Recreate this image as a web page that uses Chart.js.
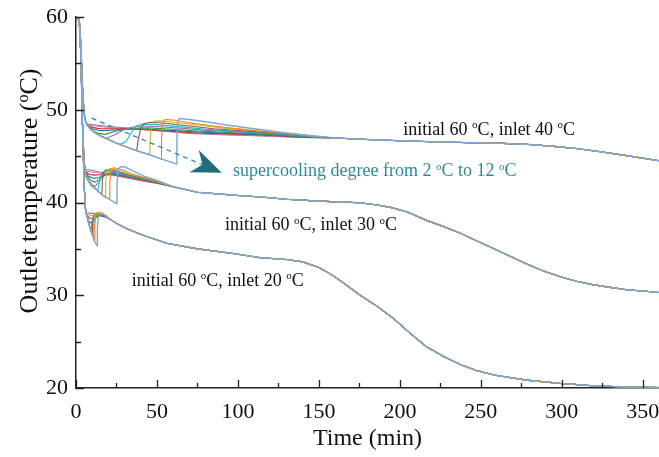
<!DOCTYPE html>
<html lang="en">
<head>
<meta charset="UTF-8">
<title>Outlet temperature vs time</title>
<script src="https://cdn.jsdelivr.net/npm/chart.js"></script>
<style>
  html, body { margin: 0; padding: 0; background: #fff; }
  #wrap { width: 659px; height: 457px; }
</style>
</head>
<body>
<div id="wrap"><canvas id="chart"></canvas></div>
<script>
// supercooling degree (°C) of each curve, and its colour
const degrees = [2, 3, 4, 5, 6, 7, 8, 9, 10, 11, 12];
const colors = ['#7f7f7f', '#e377c2', '#d62728', '#1f77b4', '#2ca02c', '#9467bd',
                '#17becf', '#8c564b', '#bcbd22', '#ff7f0e', '#7aaadc'];

const xTicks = [0, 50, 100, 150, 200, 250, 300, 350];
const yTicks = [20, 30, 40, 50, 60];

// ---- initial 60 °C, inlet 40 °C : [time (min), temperature (°C)]
const head40 = [[0, 60], [2, 59.8], [3, 57], [4, 52.5], [5, 49.6], [6, 48.7]];
const tail40 = [[160, 46.95], [180, 46.8], [200, 46.65], [230, 46.5], [260, 46.4], [280, 46.25],
                [295, 46.05], [310, 45.8], [325, 45.45], [340, 45.05], [360, 44.5]];
const in40 = [
  [[7, 48.45], [12, 48.35], [20, 48.2], [30, 48.05], [40, 47.9], [55, 47.7], [70, 47.45], [90, 47.3], [110, 47.2], [140, 47.0]],
  [[7, 48.4], [12, 48.25], [20, 48.1], [30, 48.0], [40, 47.88], [55, 47.7], [70, 47.5], [90, 47.35], [110, 47.25], [140, 47.02]],
  [[7, 48.35], [10, 48.1], [15, 47.95], [22, 47.95], [32, 47.95], [45, 47.85], [60, 47.65], [75, 47.5], [95, 47.4], [115, 47.28], [140, 47.05]],
  [[7, 48.3], [10, 47.95], [15, 47.75], [22, 47.8], [32, 47.9], [45, 47.9], [60, 47.75], [75, 47.6], [95, 47.45], [115, 47.32], [140, 47.08]],
  [[7, 48.3], [10, 47.8], [14, 47.45], [18, 47.35], [25, 47.7], [33, 48.0], [45, 48.05], [60, 47.9], [75, 47.7], [95, 47.55], [115, 47.38], [140, 47.1]],
  [[7, 48.3], [9, 47.9], [12, 47.5], [16, 47.1], [19, 46.95], [24, 47.3], [30, 47.9], [38, 48.25], [50, 48.2], [65, 48.0], [80, 47.8], [100, 47.6], [120, 47.42], [140, 47.15]],
  [[7, 48.3], [9, 47.9], [12, 47.5], [16, 47.1], [20, 46.8], [25, 46.4], [28, 46.3], [31, 46.6], [34, 47.5], [37, 48.2], [41, 48.45], [50, 48.4], [65, 48.15], [80, 47.9], [100, 47.65], [120, 47.45], [140, 47.18]],
  [[7, 48.3], [9, 47.9], [12, 47.5], [16, 47.1], [20, 46.8], [25, 46.4], [31, 46.0], [35, 45.75], [37.5, 45.65], [38.5, 46.8], [40, 48.0], [42, 48.5], [46, 48.65], [55, 48.55], [70, 48.25], [85, 47.95], [105, 47.7], [125, 47.45], [140, 47.22]],
  [[7, 48.3], [9, 47.9], [12, 47.5], [16, 47.1], [20, 46.8], [25, 46.4], [31, 46.0], [38, 45.55], [45.5, 45.15], [45.8, 46.6], [46.5, 48.3], [48, 48.75], [52, 48.8], [60, 48.65], [75, 48.35], [90, 48.05], [110, 47.75], [130, 47.45], [140, 47.25]],
  [[7, 48.3], [9, 47.9], [12, 47.5], [16, 47.1], [20, 46.8], [25, 46.4], [31, 46.0], [38, 45.55], [45.5, 45.15], [52.5, 44.7], [52.8, 46.6], [53.3, 48.6], [55, 48.95], [60, 48.9], [70, 48.6], [85, 48.25], [100, 47.95], [120, 47.6], [140, 47.28]],
  [[7, 48.3], [9, 47.9], [12, 47.5], [16, 47.1], [20, 46.8], [25, 46.4], [31, 46.0], [38, 45.55], [45.5, 45.15], [52.5, 44.7], [62, 44.15], [62.3, 46.6], [62.8, 48.8], [64, 49.05], [70, 48.95], [80, 48.7], [95, 48.3], [110, 47.95], [125, 47.6], [140, 47.3]]
];

// ---- initial 60 °C, inlet 30 °C
const head30 = [[0, 60], [2, 59.7], [3, 56], [4, 48.5], [5, 44.3]];
const tail30 = [[60, 41.7], [75, 41.1], [100, 40.75], [114, 40.6], [130, 40.35], [150, 40.15], [175, 39.98],
                [185, 39.75], [195, 39.45], [205, 38.95], [216, 38.1], [227, 37.4], [237, 36.7], [247, 35.9],
                [257, 35.1], [268, 34.2], [278, 33.4], [289, 32.6], [299, 32.0], [309, 31.5], [319, 31.15],
                [330, 30.85], [340, 30.6], [350, 30.45], [360, 30.3]];
const in30 = [
  [[6, 43.55], [9, 43.5], [13, 43.35], [18, 43.15], [23, 42.95], [30, 42.7], [40, 42.35], [50, 42.05]],
  [[6, 43.4], [9, 43.3], [13, 43.2], [18, 43.1], [23, 42.97], [30, 42.75], [40, 42.4], [50, 42.08]],
  [[6, 43.3], [8, 43.05], [11, 42.95], [15, 43.0], [19, 43.05], [23, 43.0], [30, 42.8], [40, 42.45], [50, 42.12]],
  [[6, 43.2], [8, 42.8], [11, 42.6], [14, 42.7], [18, 42.95], [23, 43.05], [30, 42.85], [40, 42.5], [50, 42.15]],
  [[6, 43.1], [8, 42.6], [10, 42.3], [12, 42.2], [15, 42.6], [19, 43.05], [23, 43.15], [30, 42.9], [40, 42.55], [50, 42.18]],
  [[6, 43.0], [8, 42.35], [10, 41.9], [12, 41.75], [14, 42.2], [17, 43.0], [20, 43.3], [25, 43.2], [32, 42.9], [40, 42.6], [50, 42.22]],
  [[6, 42.9], [8, 42.2], [10, 41.75], [12.3, 41.45], [13.5, 41.3], [14.5, 42.2], [16, 43.1], [19, 43.45], [25, 43.3], [32, 42.95], [40, 42.65], [50, 42.25]],
  [[6, 42.9], [8, 42.2], [10, 41.75], [12.3, 41.45], [14, 41.15], [16, 40.85], [16.3, 42.3], [17, 43.3], [19, 43.55], [24, 43.45], [32, 43.0], [40, 42.7], [50, 42.28]],
  [[6, 42.9], [8, 42.2], [10, 41.75], [12.3, 41.45], [14, 41.15], [16, 40.85], [18, 40.6], [18.3, 42.3], [19, 43.45], [21, 43.65], [26, 43.5], [33, 43.05], [40, 42.75], [50, 42.3]],
  [[6, 42.9], [8, 42.2], [10, 41.75], [12.3, 41.45], [14, 41.15], [16, 40.85], [18, 40.6], [20.6, 40.35], [20.9, 42.2], [21.5, 43.6], [23.5, 43.75], [28, 43.55], [34, 43.1], [41, 42.75], [50, 42.33]],
  [[6, 42.9], [8, 42.2], [10, 41.75], [12.3, 41.45], [14, 41.15], [16, 40.85], [18, 40.6], [20.6, 40.35], [23, 40.1], [25, 39.9], [25.3, 42.0], [26.3, 43.7], [28, 43.85], [30, 43.85], [35, 43.4], [42, 42.85], [50, 42.38]]
];

// ---- initial 60 °C, inlet 20 °C
const head20 = [[0, 60], [2, 59.6], [3, 56], [4, 48.5], [5, 42], [5.8, 39.4]];
const tail20 = [[20, 38.3], [25, 37.75], [31, 37.2], [41, 36.5], [56, 35.6], [75, 35.0], [97, 34.5], [114, 34.05],
                [130, 33.85], [140, 33.6], [150, 33.0], [158, 32.2], [165, 31.35], [175, 30.05], [186, 28.8],
                [196, 27.5], [206, 25.95], [216, 24.5], [227, 23.4], [237, 22.55], [247, 21.9], [258, 21.4],
                [278, 20.85], [299, 20.5], [319, 20.25], [340, 20.1], [360, 20.05]];
const in20 = [
  [[6.5, 38.9], [9, 38.85], [12, 38.75], [15, 38.6], [18, 38.45]],
  [[6.5, 38.8], [9, 38.6], [12, 38.55], [15, 38.55], [18, 38.45]],
  [[6.5, 38.7], [8, 38.35], [10, 38.25], [12, 38.4], [15, 38.6], [18, 38.47]],
  [[6.5, 38.7], [7.5, 38.1], [9, 37.8], [11, 38.1], [13, 38.55], [15, 38.65], [18, 38.5]],
  [[6.5, 38.7], [7.5, 38.0], [8.5, 37.4], [9.5, 37.3], [11, 37.9], [13, 38.6], [15, 38.7], [18, 38.5]],
  [[6.5, 38.7], [7.5, 38.0], [8.5, 37.35], [9.5, 36.9], [10.3, 37.2], [11.3, 38.2], [12.5, 38.7], [15, 38.75], [18, 38.52]],
  [[6.5, 38.7], [7.5, 38.0], [8.5, 37.35], [9.3, 36.9], [9.7, 37.6], [10.5, 38.4], [12, 38.75], [15, 38.8], [18, 38.55]],
  [[6.5, 38.7], [7.5, 38.0], [8.5, 37.35], [9.3, 36.9], [10, 36.55], [10.3, 37.8], [11, 38.6], [12.5, 38.85], [15.5, 38.8], [18, 38.58]],
  [[6.5, 38.7], [7.5, 38.0], [8.5, 37.35], [9.3, 36.9], [10, 36.55], [10.7, 36.2], [10.9, 37.8], [11.5, 38.65], [13, 38.85], [16, 38.8], [18, 38.6]],
  [[6.5, 38.7], [7.5, 38.0], [8.5, 37.35], [9.3, 36.9], [10, 36.55], [10.7, 36.2], [11.4, 35.85], [11.6, 37.6], [12.2, 38.6], [14, 38.9], [16.5, 38.8], [18.5, 38.6]],
  [[6.5, 38.7], [7.5, 38.0], [8.5, 37.35], [9.3, 36.9], [10, 36.55], [10.7, 36.2], [11.4, 35.85], [12.2, 35.55], [13, 35.35], [13.2, 37.2], [13.8, 38.5], [15, 38.75], [17, 38.75], [19, 38.55]]
];

const serif = '"Liberation Serif", "Times New Roman", serif';
const teal = '#2f8a96';

const groups = [[head40, in40, tail40], [head30, in30, tail30], [head20, in20, tail20]];
const datasets = [];
groups.forEach(([head, curves, tail]) => {
  curves.forEach((pts, i) => {
    datasets.push({
      label: degrees[i] + ' °C',
      data: head.concat(pts, tail).map(p => ({ x: p[0], y: p[1] })),
      borderColor: colors[i],
      borderWidth: i === curves.length - 1 ? 1.4 : 1.1,
      order: curves.length - 1 - i,
      pointRadius: 0,
      fill: false,
      tension: 0
    });
  });
});

// draws text with superscript pieces: plain strings, and ['o'] for raised ones
function richWidth(ctx, parts, size) {
  let w = 0;
  parts.forEach(p => {
    const sup = Array.isArray(p);
    ctx.font = (sup ? Math.round(size * 0.62) : size) + 'px ' + serif;
    w += ctx.measureText(sup ? p[0] : p).width;
  });
  return w;
}
function drawRich(ctx, parts, x, y, size, color) {
  ctx.fillStyle = color;
  ctx.textBaseline = 'alphabetic';
  ctx.textAlign = 'left';
  parts.forEach(p => {
    const sup = Array.isArray(p);
    const t = sup ? p[0] : p;
    ctx.font = (sup ? Math.round(size * 0.62) : size) + 'px ' + serif;
    ctx.fillText(t, x, sup ? y - size * 0.36 : y);
    x += ctx.measureText(t).width;
  });
}

// labels: [time, temperature] of the left end of the baseline
const notes = [
  { at: [202, 47.3], color: '#111', parts: ['initial 60 ', ['o'], 'C, inlet 40 ', ['o'], 'C'] },
  { at: [97, 42.85], color: teal, parts: ['supercooling degree from 2 ', ['o'], 'C to 12 ', ['o'], 'C'] },
  { at: [92, 37.03], color: '#111', parts: ['initial 60 ', ['o'], 'C, inlet 30 ', ['o'], 'C'] },
  { at: [34.4, 31.0], color: '#111', parts: ['initial 60 ', ['o'], 'C, inlet 20 ', ['o'], 'C'] }
];
const arrowFrom = [9.7, 49.1];
const arrowTo = [90, 43.2];

const decor = {
  id: 'decor',
  afterDatasetsDraw(chart) {
    const { ctx, chartArea: a, scales: { x, y } } = chart;
    ctx.save();
    // inward ticks
    ctx.strokeStyle = '#222';
    ctx.lineWidth = 1.3;
    ctx.beginPath();
    for (let t = 0; t <= 360; t += 25) {
      const px = Math.round(x.getPixelForValue(t)) + 0.5;
      ctx.moveTo(px, a.bottom);
      ctx.lineTo(px, a.bottom - (t % 50 === 0 ? 8 : 5));
    }
    for (let v = 20; v <= 60; v += 5) {
      const py = Math.round(y.getPixelForValue(v)) + 0.5;
      ctx.moveTo(a.left, py);
      ctx.lineTo(a.left + (v % 10 === 0 ? 8 : 5), py);
    }
    ctx.stroke();

    // dashed arrow
    const x0 = x.getPixelForValue(arrowFrom[0]), y0 = y.getPixelForValue(arrowFrom[1]);
    const x1 = x.getPixelForValue(arrowTo[0]), y1 = y.getPixelForValue(arrowTo[1]);
    const ang = Math.atan2(y1 - y0, x1 - x0);
    const L = 30, W = 12, N = 9;
    const bx = x1 - Math.cos(ang) * L, by = y1 - Math.sin(ang) * L;
    ctx.strokeStyle = teal;
    ctx.lineWidth = 1.3;
    ctx.setLineDash([5, 4]);
    ctx.beginPath();
    ctx.moveTo(x0, y0);
    ctx.lineTo(x1 - Math.cos(ang) * (L - N), y1 - Math.sin(ang) * (L - N));
    ctx.stroke();
    ctx.setLineDash([]);
    ctx.fillStyle = '#1f6f7a';
    ctx.beginPath();
    ctx.moveTo(x1, y1);
    ctx.lineTo(bx - Math.sin(ang) * W, by + Math.cos(ang) * W);
    ctx.lineTo(bx + Math.cos(ang) * N, by + Math.sin(ang) * N);
    ctx.lineTo(bx + Math.sin(ang) * W, by - Math.cos(ang) * W);
    ctx.closePath();
    ctx.fill();

    // curve labels
    notes.forEach(n => {
      drawRich(ctx, n.parts, x.getPixelForValue(n.at[0]), y.getPixelForValue(n.at[1]), 18, n.color);
    });

    // axis titles
    const xt = ['Time (min)'];
    drawRich(ctx, xt, (a.left + a.right) / 2 - richWidth(ctx, xt, 24) / 2, 445, 24, '#111');
    const yt = ['Outlet temperature (', ['o'], 'C)'];
    ctx.translate(37, 191);
    ctx.rotate(-Math.PI / 2);
    drawRich(ctx, yt, -richWidth(ctx, yt, 26) / 2, 0, 26, '#111');
    ctx.restore();
  }
};

new Chart(document.getElementById('chart'), {
  type: 'line',
  data: { datasets },
  plugins: [decor],
  options: {
    responsive: true,
    maintainAspectRatio: false,
    animation: false,
    layout: { padding: { top: 17, right: 0, bottom: 0, left: 0 } },
    plugins: { legend: { display: false }, tooltip: { enabled: false } },
    scales: {
      x: {
        type: 'linear', min: 0, max: 360,
        afterBuildTicks: s => { s.ticks = xTicks.map(v => ({ value: v })); },
        afterFit: s => { s.height = 69; s.paddingLeft = 0; s.paddingRight = 0; },
        grid: { display: false },
        border: { display: true, color: '#222', width: 1.5 },
        ticks: { color: '#111', padding: 3, maxRotation: 0, font: { family: serif, size: 22 } }
      },
      y: {
        min: 20, max: 60,
        afterBuildTicks: s => { s.ticks = yTicks.map(v => ({ value: v })); },
        afterFit: s => { s.width = 76; s.paddingTop = 0; s.paddingBottom = 0; },
        grid: { display: false },
        border: { display: true, color: '#222', width: 1.5 },
        ticks: { color: '#111', padding: 0, font: { family: serif, size: 22 } }
      }
    }
  }
});
</script>
</body>
</html>
